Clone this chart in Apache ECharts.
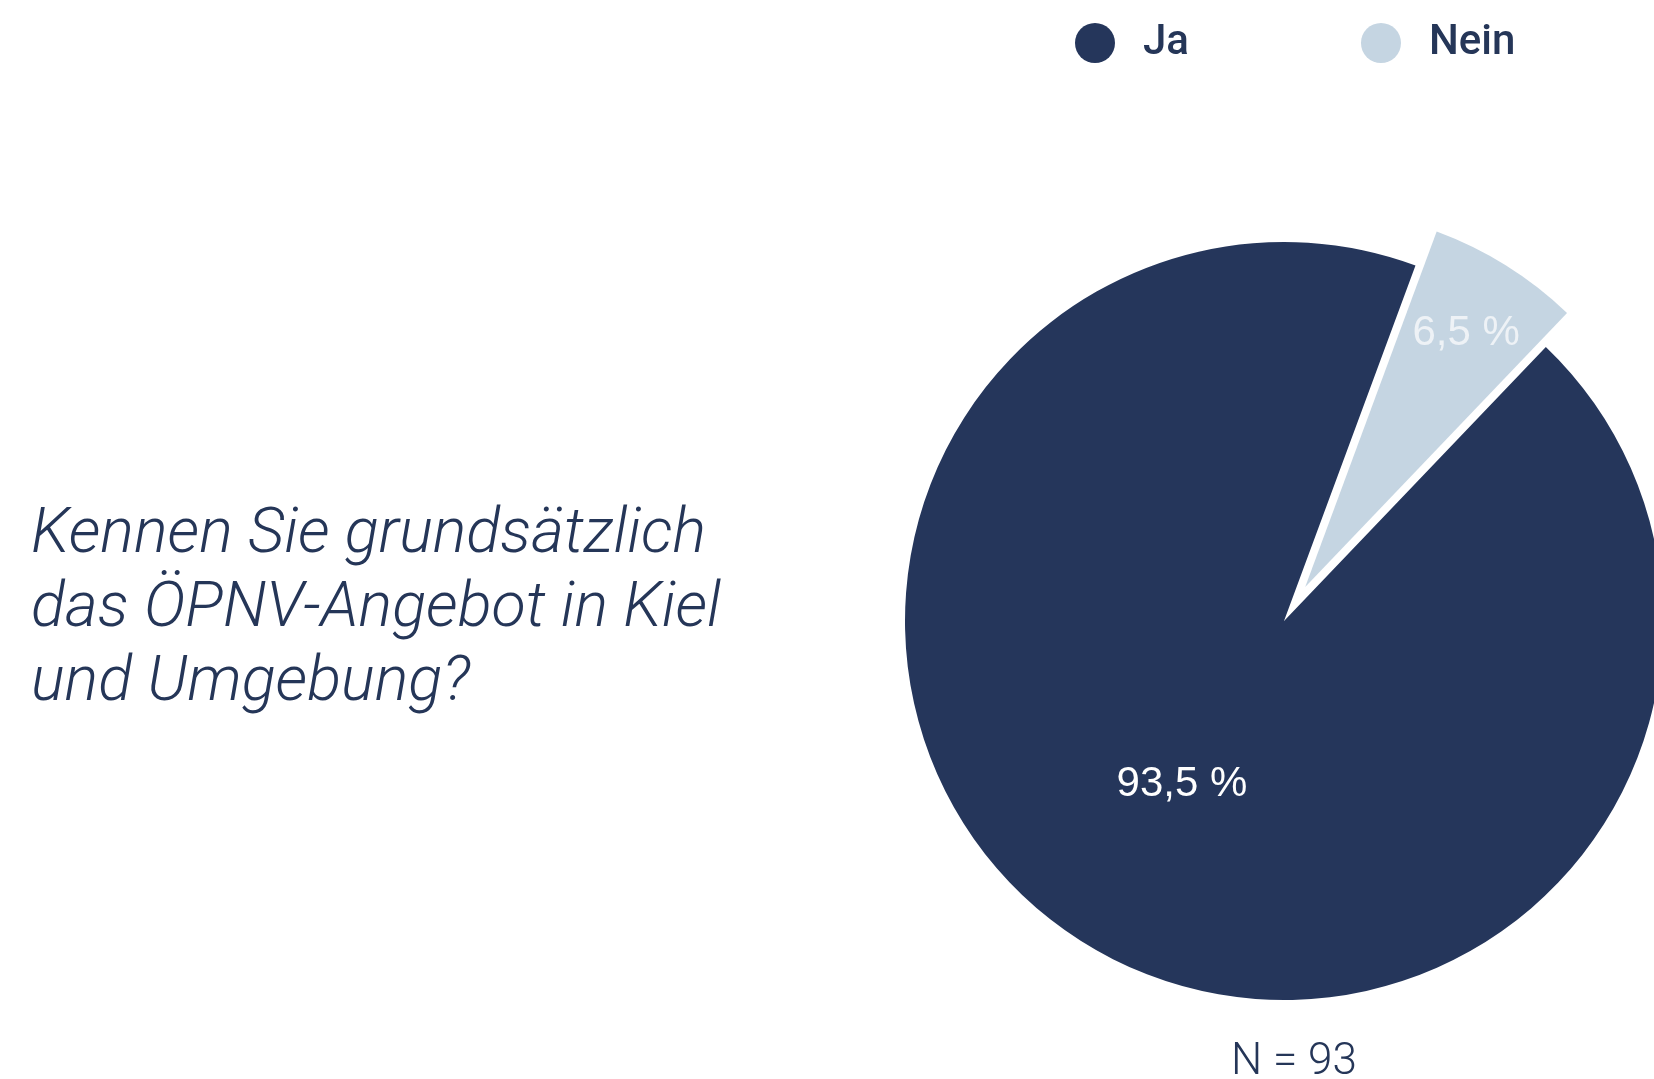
<!DOCTYPE html>
<html lang="de">
<head>
<meta charset="utf-8">
<title>ÖPNV-Angebot Kiel</title>
<script src="https://cdn.jsdelivr.net/npm/echarts@6/dist/echarts.min.js"></script>
<style>
  html, body { margin: 0; padding: 0; background: #ffffff; }
  #chart { width: 1654px; height: 1079px; }
</style>
</head>
<body>
<div id="chart"></div>
<script>
// Survey answers and their shares in percent
const categories = ['Ja', 'Nein'];
const shares = [93.5, 6.5];
const sampleSize = 93;
const question = 'Kennen Sie grundsätzlich\ndas ÖPNV-Angebot in Kiel\nund Umgebung?';

const colors = ['#25365b', '#c5d5e2'];
const labelColors = ['#ffffff', '#eef2f6'];
const textColor = '#253658';

const fmt = v => v.toFixed(1).replace('.', ',') + ' %';

const chart = echarts.init(document.getElementById('chart'), null, { renderer: 'canvas' });

chart.setOption({
  animation: false,
  backgroundColor: '#ffffff',
  title: [
    {
      text: question,
      left: 26,
      top: 494,
      textStyle: {
        fontFamily: 'Roboto',
        fontStyle: 'italic',
        fontWeight: 300,
        fontSize: 63,
        lineHeight: 74,
        color: textColor
      }
    },
    {
      text: 'N = ' + sampleSize,
      left: 1226,
      top: 1035,
      textStyle: {
        fontFamily: 'Roboto',
        fontWeight: 300,
        fontSize: 44,
        lineHeight: 46,
        color: textColor
      }
    }
  ],
  legend: {
    data: categories,
    left: 1070,
    top: 17,
    icon: 'circle',
    itemWidth: 40,
    itemHeight: 40,
    itemGap: 172,
    selectedMode: false,
    textStyle: {
      fontFamily: 'Roboto',
      fontWeight: 500,
      fontSize: 42,
      color: textColor,
      padding: [0, 0, 0, 23]
    }
  },
  series: [
    {
      type: 'pie',
      center: [1284, 621],
      radius: 379,
      startAngle: 46.3,
      clockwise: true,
      selectedMode: 'single',
      selectedOffset: 40,
      avoidLabelOverlap: false,
      emphasis: { disabled: true },
      itemStyle: { borderWidth: 0 },
      label: {
        show: true,
        position: 'inside',
        fontFamily: 'Liberation Sans',
        fontSize: 42,
        formatter: p => fmt(p.value)
      },
      labelLine: { show: false },
      // the small slice carries its label further out, near the rim
      labelLayout: p => (p.dataIndex === 1 ? { dx: 59, dy: -90 } : {}),
      data: categories.map((name, i) => ({
        name,
        value: shares[i],
        selected: i === 1,
        itemStyle: { color: colors[i] },
        label: { color: labelColors[i] }
      }))
    }
  ]
});
</script>
</body>
</html>
